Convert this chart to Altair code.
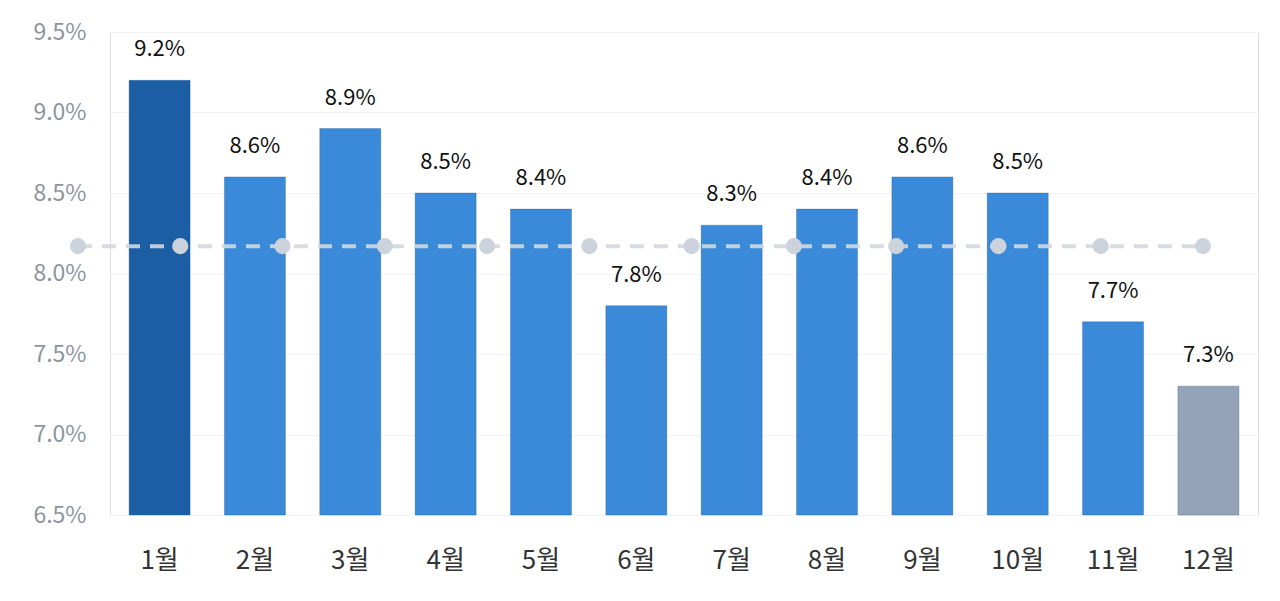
import altair as alt
import pandas as pd

months = ["1월", "2월", "3월", "4월", "5월", "6월", "7월", "8월", "9월", "10월", "11월", "12월"]
values = [9.2, 8.6, 8.9, 8.5, 8.4, 7.8, 8.3, 8.4, 8.6, 8.5, 7.7, 7.3]
groups = ["max", "mid", "mid", "mid", "mid", "mid", "mid", "mid", "mid", "mid", "mid", "last"]
avg_value = 8.17
y_ticks = [6.5, 7.0, 7.5, 8.0, 8.5, 9.0, 9.5]

FONT = "Noto Sans CJK KR"

bars_df = pd.DataFrame({"month": months, "value": values, "group": groups,
                        "label": [f"{v:.1f}%" for v in values]})
avg_df = pd.DataFrame({"idx": list(range(len(months))), "avg": [avg_value] * len(months)})

x_enc = alt.X("month:N", sort=months,
              scale=alt.Scale(paddingInner=0.36, paddingOuter=0.2),
              axis=alt.Axis(title=None, labelAngle=0, ticks=False, domain=False, grid=False,
                            labelFont=FONT, labelFontSize=26, labelColor="#333333",
                            labelPadding=32))
y_scale = alt.Scale(domain=[6.5, 9.5], nice=False, zero=False)
y_axis = alt.Axis(title=None, values=y_ticks, labelExpr="format(datum.value, '.1f') + '%'",
                  ticks=False, domain=False, grid=True, gridColor="#f1f3f5", gridWidth=1.2,
                  labelFont=FONT, labelFontSize=23, labelColor="#8d949e", labelPadding=24)

bars = alt.Chart(bars_df).mark_bar(stroke="#1d4f86", strokeWidth=0.6, strokeOpacity=0.5).encode(
    x=x_enc,
    y=alt.Y("value:Q", scale=y_scale, axis=y_axis),
    y2=alt.datum(6.5),
    color=alt.Color("group:N", scale=alt.Scale(domain=["max", "mid", "last"],
                                               range=["#1c5ea3", "#3a8ad9", "#94a3b8"]), legend=None),
)

labels = alt.Chart(bars_df).mark_text(dy=-31, font=FONT, fontSize=22, color="#111111", baseline="middle").encode(
    x=alt.X("month:N", sort=months),
    y=alt.Y("value:Q", scale=y_scale, axis=y_axis),
    text="label:N",
)

base_layer = alt.layer(bars, labels)

x_avg = alt.X("idx:Q", scale=alt.Scale(domain=[0.313, 11.538], nice=False, zero=False), axis=None)
avg_line = alt.Chart(avg_df).mark_line(color="#d3d8df", strokeWidth=4, strokeDash=[14, 10], opacity=0.9).encode(
    x=x_avg, y=alt.Y("avg:Q", scale=y_scale, axis=y_axis))
avg_pts = alt.Chart(avg_df).mark_point(filled=True, color="#cdd3dd", size=260, opacity=1).encode(
    x=x_avg, y=alt.Y("avg:Q", scale=y_scale, axis=y_axis))

chart = alt.layer(base_layer, avg_line, avg_pts).resolve_scale(x="independent").properties(
    width=1148, height=483,
    autosize=alt.AutoSizeParams(type="none"),
    padding={"left": 102, "top": 24, "right": 10, "bottom": 70},
).configure_view(strokeWidth=0, stroke=None).configure_axis(domain=False).configure(background="white")

chart.save("out.html", embed_options={"renderer": "svg", "actions": False})
